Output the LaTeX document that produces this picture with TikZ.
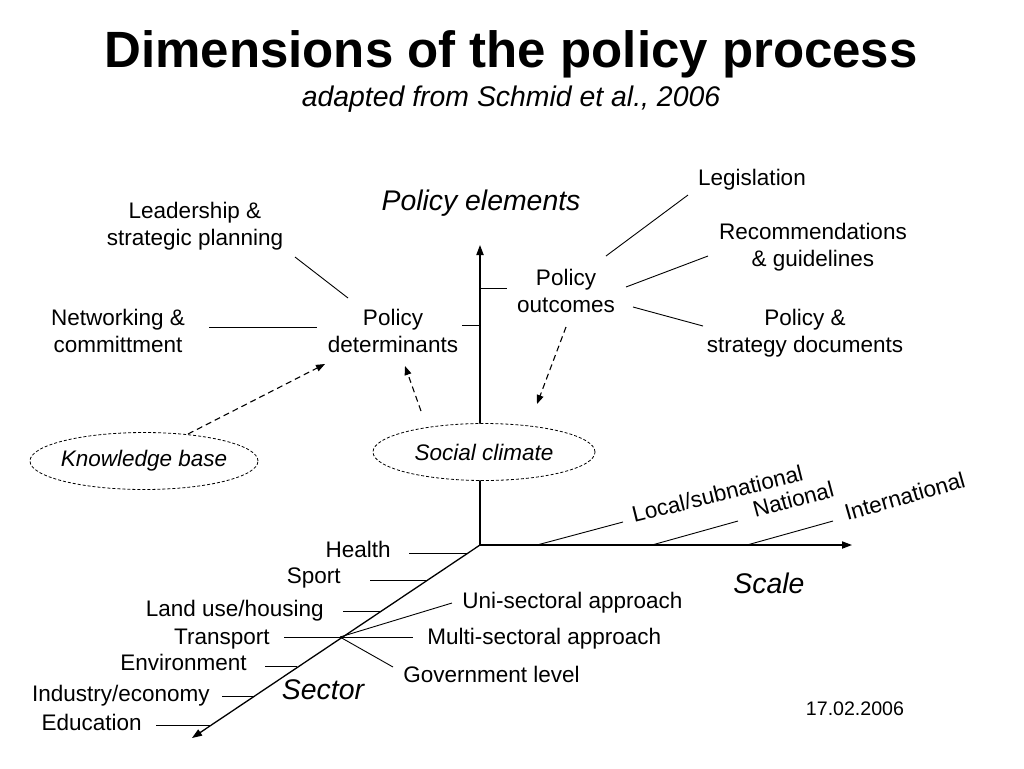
\documentclass[tikz,border=0pt]{standalone}
\usepackage{fontspec}
\setmainfont{Liberation Sans}
\usetikzlibrary{arrows.meta,shapes.geometric}
\begin{document}
\begin{tikzpicture}[x=0.5pt,y=-0.5pt,
  lbl/.style={font=\fontsize{11.25}{13.5}\selectfont, align=center, inner sep=0pt},
  axlbl/.style={font=\fontsize{14.2}{17}\selectfont\itshape, inner sep=0pt},
  ax/.style={line width=0.65pt, -{Triangle[length=5pt,width=3.6pt]}},
  tickline/.style={line width=0.45pt},
  dasharrow/.style={line width=0.55pt, dash pattern=on 3pt off 2pt, -{Triangle[length=4.5pt,width=3.4pt]}},
  oval/.style={ellipse, draw, dash pattern=on 1.5pt off 1pt, line width=0.4pt, fill=white,
    font=\fontsize{11.25}{13.5}\selectfont\itshape, inner sep=0pt, minimum height=28.5pt}
]
\useasboundingbox (0,0) rectangle (1024,768);
\fill[white] (0,0) rectangle (1024,768);

% titles
\node[font=\fontsize{25.5}{30}\selectfont\bfseries, inner sep=0pt, anchor=base] (title) at (511,67) {Dimensions of the policy process};
\node[font=\fontsize{14.2}{17}\selectfont\itshape, inner sep=0pt, anchor=base] (subtitle) at (511,106) {adapted from Schmid et al., 2006};

% axes
\coordinate (O) at (480,545);
\coordinate (Ytip) at (480,245);
\coordinate (Xtip) at (852,545);
\coordinate (Ztip) at (192,738);
\draw[ax] (O) -- (Ytip);
\draw[ax] (O) -- (Xtip);
\draw[ax] (O) -- (Ztip);

\node[axlbl, anchor=base] (pe) at (481,210) {Policy elements};
\node[axlbl, anchor=base] (scale) at (769,593) {Scale};
\node[axlbl, anchor=base] (sector) at (323,699) {Sector};

% policy element ticks
\coordinate (t1a) at (480,288); \coordinate (t1b) at (507,288);
\coordinate (t2a) at (462,325); \coordinate (t2b) at (480,325);
\draw[tickline] (t1a) -- (t1b);
\draw[tickline] (t2a) -- (t2b);

% policy element nodes
\node[lbl] (out) at (566,291) {Policy\\outcomes};
\node[lbl] (det) at (393,331) {Policy\\determinants};
\node[lbl] (lead) at (195,226) {Leadership \&\\strategic planning};
\node[lbl] (net) at (118,331) {Networking \&\\committment};
\node[lbl, anchor=base] (leg) at (752,185) {Legislation};
\node[lbl] (rec) at (813,247) {Recommendations\\\& guidelines};
\node[lbl] (doc) at (805,333) {Policy \&\\strategy documents};

\coordinate (l1a) at (295,257); \coordinate (l1b) at (348,298);
\coordinate (l2a) at (209,327); \coordinate (l2b) at (317,327);
\coordinate (l3a) at (606,256); \coordinate (l3b) at (688,195);
\coordinate (l4a) at (626,287); \coordinate (l4b) at (708,256);
\coordinate (l5a) at (633,307); \coordinate (l5b) at (703,326);
\draw[tickline] (l1a) -- (l1b);
\draw[tickline] (l2a) -- (l2b);
\draw[tickline] (l3a) -- (l3b);
\draw[tickline] (l4a) -- (l4b);
\draw[tickline] (l5a) -- (l5b);

% ovals
\node[oval, minimum width=114pt, inner xsep=-1.6pt] (kb) at (144,461) {Knowledge base};
\node[oval, minimum width=111pt] (sc) at (484,452) {Social climate};

% dashed arrows
\coordinate (d1a) at (188,434); \coordinate (d1b) at (325,364);
\coordinate (d2a) at (421,411); \coordinate (d2b) at (405,366);
\coordinate (d3a) at (566,327); \coordinate (d3b) at (537,404);
\draw[dasharrow] (d1a) -- (d1b);
\draw[dasharrow] (d2a) -- (d2b);
\draw[dasharrow] (d3a) -- (d3b);

% scale
\coordinate (s1a) at (537,545); \coordinate (s1b) at (623,522);
\coordinate (s2a) at (652,545); \coordinate (s2b) at (738,521);
\coordinate (s3a) at (747,545); \coordinate (s3b) at (833,521);
\draw[tickline] (s1a) -- (s1b);
\draw[tickline] (s2a) -- (s2b);
\draw[tickline] (s3a) -- (s3b);
\node[lbl, anchor=base west, rotate=14] (local) at (634,523) {Local/subnational};
\node[lbl, anchor=base west, rotate=15] (nat) at (755,518) {National};
\node[lbl, anchor=base west, rotate=16] (intl) at (847,521) {International};

% sector
\node[lbl, anchor=base east] (health) at (391,557) {Health};
\node[lbl, anchor=base east] (sport) at (341,583) {Sport};
\node[lbl, anchor=base east] (land) at (324,616) {Land use/housing};
\node[lbl, anchor=base east] (trans) at (270,644) {Transport};
\node[lbl, anchor=base east] (env) at (247,670) {Environment};
\node[lbl, anchor=base east] (ind) at (210,701) {Industry/economy};
\node[lbl, anchor=base east] (edu) at (142,730) {Education};

\coordinate (h1) at (409,553); \coordinate (h2) at (468,553);
\coordinate (sp1) at (370,580); \coordinate (sp2) at (428,580);
\coordinate (la1) at (343,611); \coordinate (la2) at (380,611);
\coordinate (tr1) at (284,637); \coordinate (hub) at (340,637);
\coordinate (en1) at (265,666); \coordinate (en2) at (297,666);
\coordinate (in1) at (222,696); \coordinate (in2) at (255,696);
\coordinate (ed1) at (156,725); \coordinate (ed2) at (210,725);
\draw[tickline] (h1) -- (h2);
\draw[tickline] (sp1) -- (sp2);
\draw[tickline] (la1) -- (la2);
\draw[tickline] (tr1) -- (hub);
\draw[tickline] (en1) -- (en2);
\draw[tickline] (in1) -- (in2);
\draw[tickline] (ed1) -- (ed2);

\node[lbl, anchor=base west] (uni) at (462,608) {Uni-sectoral approach};
\node[lbl, anchor=base west] (multi) at (427,644) {Multi-sectoral approach};
\node[lbl, anchor=base west] (gov) at (403,682) {Government level};
\coordinate (u1) at (452,603);
\coordinate (m1) at (413,637);
\coordinate (g1) at (393,667);
\draw[tickline] (hub) -- (u1);
\draw[tickline] (hub) -- (m1);
\draw[tickline] (hub) -- (g1);

\node[font=\fontsize{9.8}{12}\selectfont, inner sep=0pt, anchor=base] (date) at (855,715) {17.02.2006};
\end{tikzpicture}
\end{document}
